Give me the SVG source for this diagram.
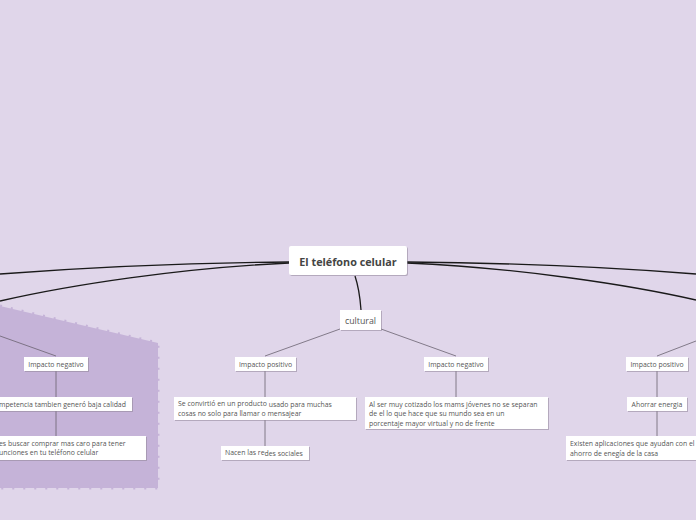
<svg xmlns="http://www.w3.org/2000/svg" width="696" height="520" viewBox="0 0 696 520">
<style>
.box{fill:#fff}
.sh{fill:#8f8598;opacity:.55}
.t{font-family:"Open Sans","Liberation Sans",sans-serif;fill:#555;font-size:6.9px}
.main{font-family:"Open Sans","Liberation Sans",sans-serif;fill:#444;font-size:10.8px;font-weight:bold}
.cul{font-family:"Open Sans","Liberation Sans",sans-serif;fill:#555;font-size:8.8px}
.thick{fill:none;stroke:#1a1a1a;stroke-width:1.3}
.thin{fill:none;stroke:#6a6270;stroke-width:.8}
</style>
<rect width="696" height="520" fill="#e0d6ea"/>
<g id="region">
<polygon points="0,306 158,343 158,488 0,488" fill="#c5b3d8"/>
<polyline points="0,306 158,343 158,488 0,488" fill="none" stroke="#c5b3d8" stroke-width="3" stroke-dasharray="2 9"/>
</g>
<g id="connectors">
<path class="thick" d="M289,262 C180,263 80,268 0,274"/>
<path class="thick" d="M289,263 C180,268 70,285 0,301"/>
<path class="thick" d="M407,262 C520,263 620,268 696,274"/>
<path class="thick" d="M407,263 C520,268 630,285 696,300"/>
<path class="thick" d="M355,276 C358,285 360,296 361,310"/>
<path class="thin" d="M340,329 L265,356"/>
<path class="thin" d="M381,329 L456,356"/>
<path class="thin" d="M0,336 L56,356"/>
<path class="thin" d="M696,341 L657,356"/>
<path class="thin" d="M56,371 L56,436"/>
<path class="thin" d="M265,371 L265,446"/>
<path class="thin" d="M456,371 L456,397"/>
<path class="thin" d="M657,371 L657,436"/>
</g>
<g id="n-main">
<rect class="sh" x="290" y="247" width="118" height="29" rx="2"/>
<rect class="box" x="289" y="246" width="118" height="29" rx="2"/>
<text class="main" x="348" y="265.8" text-anchor="middle">El teléfono celular</text>
</g>
<g id="n-cultural">
<rect class="sh" x="341" y="311" width="41" height="20"/>
<rect class="box" x="340" y="310" width="41" height="20"/>
<text class="cul" x="360.5" y="323.6" text-anchor="middle">cultural</text>
</g>
<g id="n-ineg-left">
<rect class="sh" x="25" y="358" width="64" height="14"/>
<rect class="box" x="24" y="357" width="64" height="14"/>
<text class="t" x="56" y="366.6" text-anchor="middle">Impacto negativo</text>
</g>
<g id="n-ipos-mid">
<rect class="sh" x="236" y="358" width="61" height="14"/>
<rect class="box" x="235" y="357" width="61" height="14"/>
<text class="t" x="265.5" y="366.6" text-anchor="middle">Impacto positivo</text>
</g>
<g id="n-ineg-mid">
<rect class="sh" x="425" y="358" width="64" height="14"/>
<rect class="box" x="424" y="357" width="64" height="14"/>
<text class="t" x="456" y="366.6" text-anchor="middle">Impacto negativo</text>
</g>
<g id="n-ipos-right">
<rect class="sh" x="627" y="358" width="62" height="14"/>
<rect class="box" x="626" y="357" width="62" height="14"/>
<text class="t" x="657" y="366.6" text-anchor="middle">Impacto positivo</text>
</g>
<g id="n-competencia">
<rect class="sh" x="-9" y="398" width="142" height="14"/>
<rect class="box" x="-10" y="397" width="142" height="14"/>
<text class="t" x="-1" y="406.6">mpetencia tambien generó baja calidad</text>
</g>
<g id="n-comprar">
<rect class="sh" x="-9" y="437" width="156" height="24"/>
<rect class="box" x="-10" y="436" width="156" height="24"/>
<text class="t" x="-1" y="445.6">es buscar comprar mas caro para tener</text>
<text class="t" x="-1" y="455">unciones en tu teléfono celular</text>
</g>
<g id="n-producto">
<rect class="sh" x="175" y="398" width="182" height="23"/>
<rect class="box" x="174" y="397" width="182" height="23"/>
<text class="t" x="178" y="406">Se convirtió en un producto <tspan dy="1">usado para muchas</tspan></text>
<text class="t" x="178" y="415.6">cosas no solo para llamar o mensajear</text>
</g>
<g id="n-redes">
<rect class="sh" x="222" y="447" width="88" height="14"/>
<rect class="box" x="221" y="446" width="88" height="14"/>
<text class="t" x="225" y="455">Nacen las re<tspan dy="1">des sociales</tspan></text>
</g>
<g id="n-cotizado">
<rect class="sh" x="366" y="398" width="183" height="32"/>
<rect class="box" x="365" y="397" width="183" height="32"/>
<text class="t" x="369" y="407">Al ser muy cotizado los mams jóvenes no se separan</text>
<text class="t" x="369" y="416.2">de el lo que hace que su mundo sea en un</text>
<text class="t" x="369" y="425.6">porcentaje mayor virtual y no de frente</text>
</g>
<g id="n-ahorrar">
<rect class="sh" x="628" y="398" width="60" height="14"/>
<rect class="box" x="627" y="397" width="60" height="14"/>
<text class="t" x="657" y="406.6" text-anchor="middle">Ahorrar energia</text>
</g>
<g id="n-aplicaciones">
<rect class="sh" x="567" y="437" width="140" height="24"/>
<rect class="box" x="566" y="436" width="140" height="24"/>
<text class="t" x="570" y="445.6">Existen aplicaciones que ayudan con el</text>
<text class="t" x="570" y="455.6">ahorro de enegía de la casa</text>
</g>
</svg>
